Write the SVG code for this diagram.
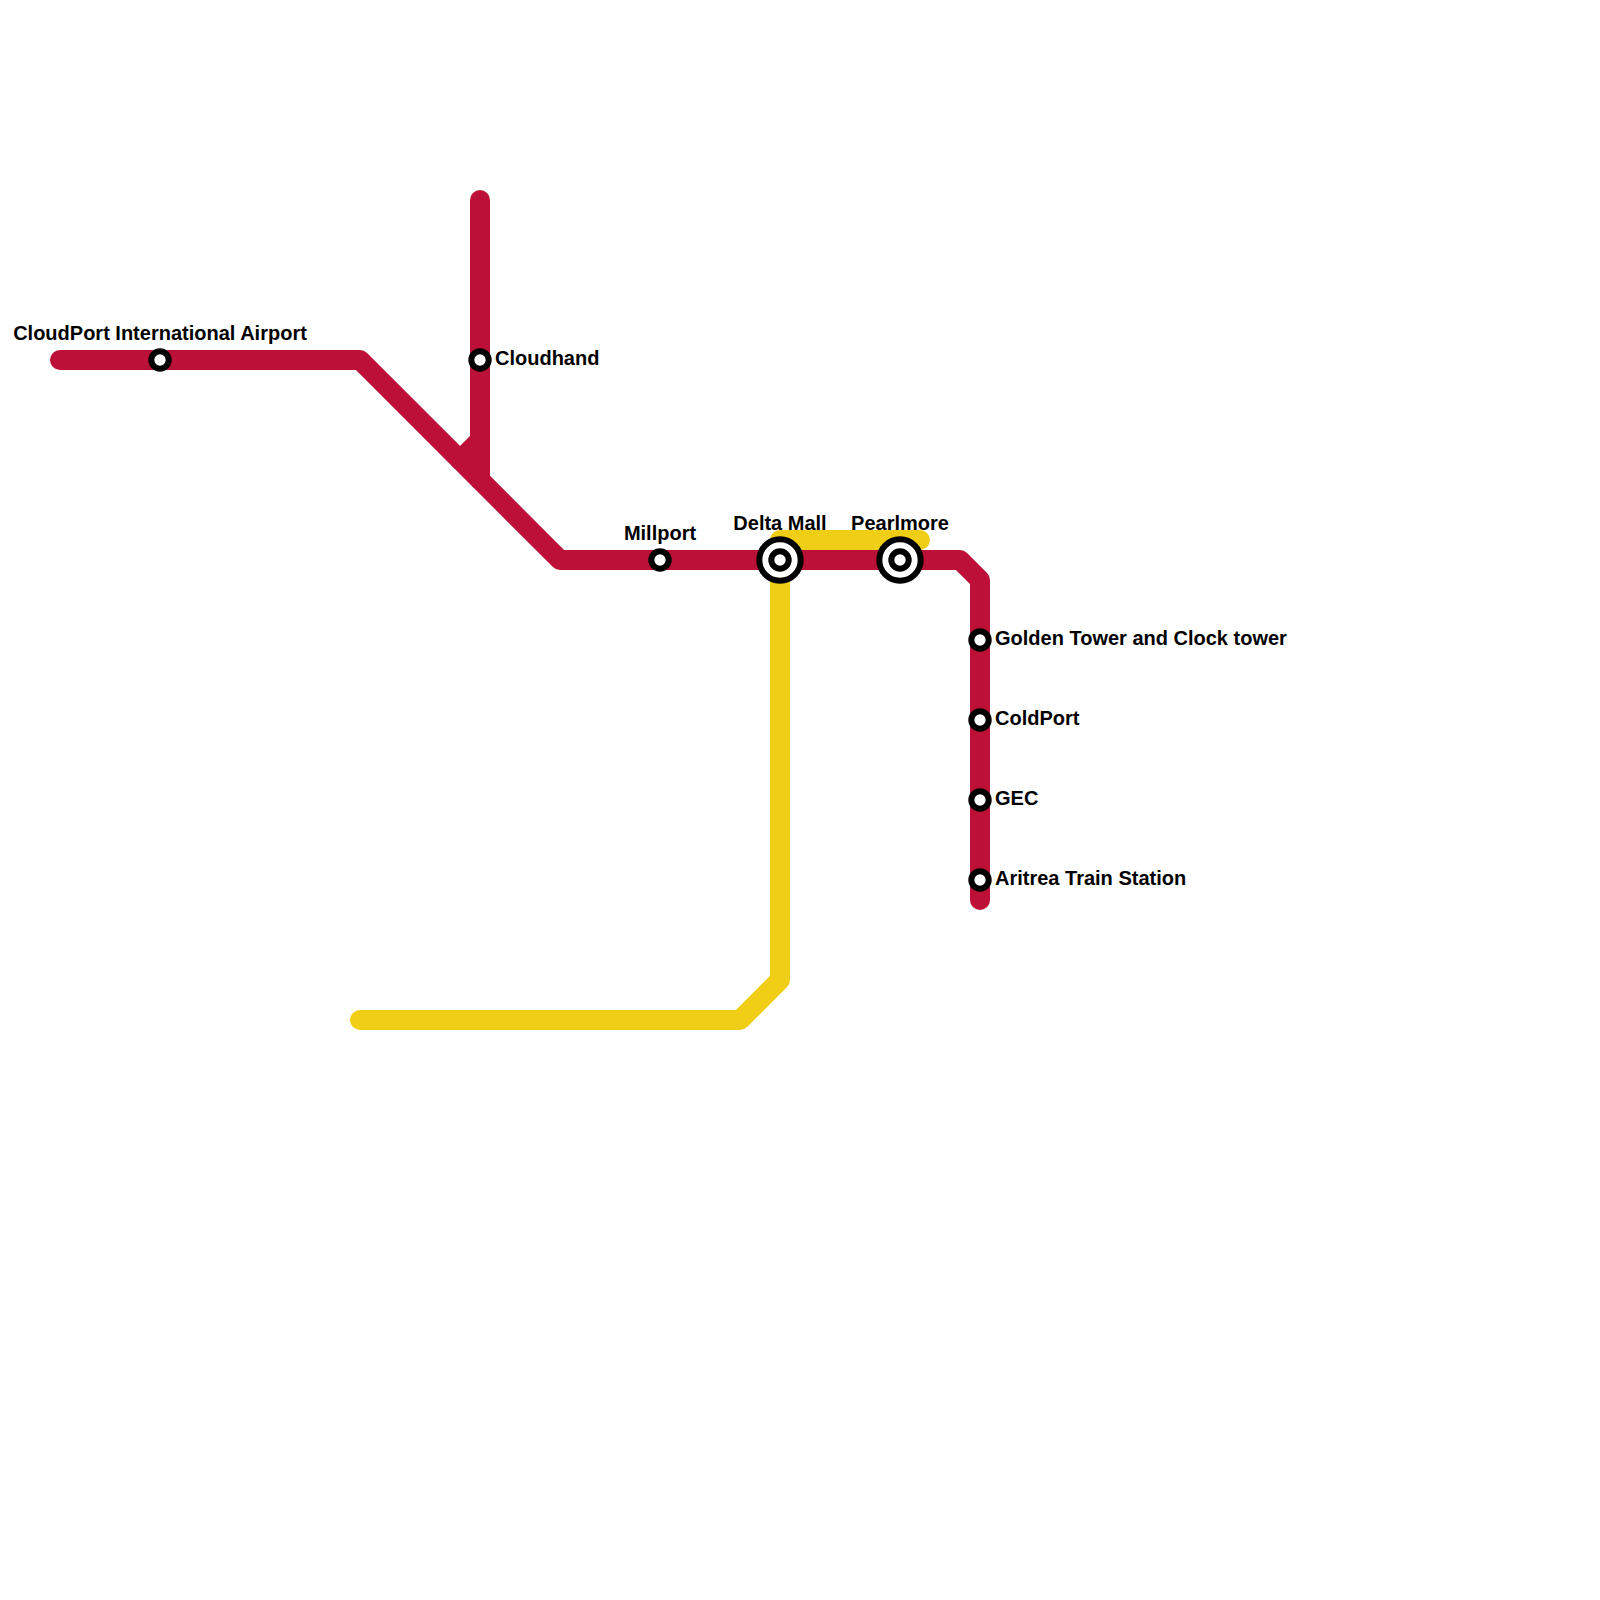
<svg xmlns="http://www.w3.org/2000/svg" width="1600" height="1600" viewBox="0 0 1600 1600">
<style>
.line{fill:none;stroke-width:20;stroke-linecap:round;stroke-linejoin:round}
.red{stroke:#BD1038}
.yellow{stroke:#F0CE15}
.st{fill:#fff;stroke:#000;stroke-width:6}
text{font-family:"Liberation Sans",Arial,sans-serif;font-size:20px;font-weight:700;fill:#000}
.m{text-anchor:middle}
</style>
<rect width="1600" height="1600" fill="#fff"/>
<g id="connectors">
<path class="line yellow" d="M920 540H780V980L740 1020H360"/>
<path class="line red" d="M480 200V480"/>
<path class="line red" d="M480 440L460 460"/>
<path class="line red" d="M60 360H360L560 560H960L980 580V900"/>
</g>
<g id="cloudport"><circle class="st" cx="160" cy="360" r="8.7"/><text class="m" x="160" y="340">CloudPort International Airport</text></g>
<g id="cloudhand"><circle class="st" cx="480" cy="360" r="8.7"/><text x="495" y="365">Cloudhand</text></g>
<g id="millport"><circle class="st" cx="660" cy="560" r="8.7"/><text class="m" x="660" y="540">Millport</text></g>
<g id="delta-mall"><circle class="st" cx="780" cy="560" r="20.7"/><circle class="st" cx="780" cy="560" r="8.7"/><text class="m" x="780" y="530">Delta Mall</text></g>
<g id="pearlmore"><circle class="st" cx="900" cy="560" r="20.7"/><circle class="st" cx="900" cy="560" r="8.7"/><text class="m" x="900" y="530">Pearlmore</text></g>
<g id="golden-tower"><circle class="st" cx="980" cy="640" r="8.7"/><text x="995" y="645">Golden Tower and Clock tower</text></g>
<g id="coldport"><circle class="st" cx="980" cy="720" r="8.7"/><text x="995" y="725">ColdPort</text></g>
<g id="gec"><circle class="st" cx="980" cy="800" r="8.7"/><text x="995" y="805">GEC</text></g>
<g id="aritrea"><circle class="st" cx="980" cy="880" r="8.7"/><text x="995" y="885">Aritrea Train Station</text></g>
</svg>
